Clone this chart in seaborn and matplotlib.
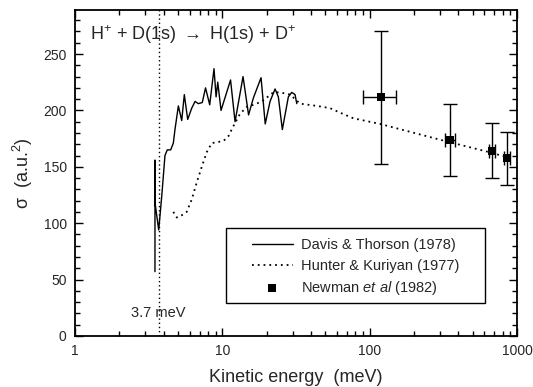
import numpy as np
import pandas as pd
import matplotlib
matplotlib.use("Agg")
import matplotlib.pyplot as plt
from matplotlib.patches import Rectangle
from matplotlib.ticker import MultipleLocator, LogLocator, NullFormatter, FixedLocator, FixedFormatter
import seaborn as sns

# ---- data ----
# Davis & Thorson (1978), solid curve
dt_energy = [3.49, 3.49, 3.51, 3.70, 3.88, 4.08, 4.23, 4.46, 4.65, 4.77, 5.03, 5.30,
             5.52, 5.82, 6.20, 6.53, 6.87, 7.31, 7.69, 8.21, 8.78, 9.07, 9.31, 9.80,
             11.37, 12.20, 13.82, 15.07, 16.24, 18.31, 19.55, 21.08, 22.80, 24.00,
             25.54, 28.06, 29.59, 31.16, 32.00]
dt_sigma = [57, 156, 116, 94, 124, 160, 165, 165, 171, 183, 204, 191,
            214, 192, 202, 208, 206, 207, 220, 205, 237, 212, 225, 200,
            227, 190, 230, 196, 211, 229, 188, 208, 219, 212,
            183, 212, 216, 214, 206]

# Hunter & Kuriyan (1977), dotted curve
hk_energy = [4.65, 4.90, 5.30, 5.73, 6.20, 6.70, 7.25, 7.84, 8.47, 9.39, 10.2, 10.98,
             11.88, 13.19, 14.64, 17.12, 18.98, 22.19, 24.64, 28.82, 33.69, 43.74,
             53.85, 62.95, 77.5, 117.7, 188.0, 300.6, 456.0, 624.0, 853.0, 945.0]
hk_sigma = [110, 105, 107, 110, 121, 136, 150, 163, 171, 172, 173, 177,
            186, 197, 203, 206, 209, 216, 216, 214, 206, 204,
            202, 198, 193, 188, 181, 174, 168, 163.5, 158.6, 156]

# Newman et al (1982), points with error bars
nw_energy = [119.5, 351.5, 680.7, 853.0]
nw_sigma = [211.7, 173.9, 164.4, 157.7]
nw_sig_lo = [152.7, 141.4, 140.0, 134.0]
nw_sig_hi = [270.6, 205.8, 189.2, 180.7]
nw_e_lo = [89.8, 323.0, 650.0, 815.0]
nw_e_hi = [150.4, 380.0, 712.0, 900.0]

threshold = 3.7

# ---- style ----
sns.set_theme(style="ticks")
plt.rcParams['font.family'] = ['Liberation Sans', 'DejaVu Sans']
plt.rcParams['mathtext.fontset'] = 'custom'
plt.rcParams['mathtext.rm'] = 'Liberation Sans'
plt.rcParams['mathtext.it'] = 'Liberation Sans:italic'
plt.rcParams['axes.edgecolor'] = 'black'
plt.rcParams['axes.linewidth'] = 1.3

dt = pd.DataFrame({'E': dt_energy, 's': dt_sigma})
hk = pd.DataFrame({'E': hk_energy, 's': hk_sigma})
nw = pd.DataFrame({'E': nw_energy, 's': nw_sigma})

fig = plt.figure(figsize=(5.33, 3.87), dpi=100)
ax = fig.add_axes([0.1407, 0.132, 0.8293, 0.842])

ax.axvline(threshold, color='black', lw=1.0, ls=(0, (1, 2)), zorder=1)

sns.lineplot(data=dt, x='E', y='s', ax=ax, sort=False, estimator=None,
             color='black', lw=1.0, label='Davis & Thorson (1978)')
sns.lineplot(data=hk, x='E', y='s', ax=ax, sort=False, estimator=None,
             color='black', lw=1.3, ls=(0, (1, 2.2)), label='Hunter & Kuriyan (1977)')

yerr = [np.array(nw_sigma) - np.array(nw_sig_lo), np.array(nw_sig_hi) - np.array(nw_sigma)]
xerr = [np.array(nw_energy) - np.array(nw_e_lo), np.array(nw_e_hi) - np.array(nw_energy)]
ax.errorbar(nw_energy, nw_sigma, yerr=yerr, xerr=xerr, fmt='none',
            ecolor='black', elinewidth=1.0, capsize=5, capthick=1.0, zorder=3)
sns.scatterplot(data=nw, x='E', y='s', ax=ax, marker='s', s=40, color='black',
                edgecolor='black', linewidth=0, zorder=4,
                label=r'Newman $\it{et\ al}$ (1982)')

ax.set_xscale('log')
ax.set_xlim(1, 1000)
ax.set_ylim(0, 289)

ax.xaxis.set_major_locator(FixedLocator([1, 10, 100, 1000]))
ax.xaxis.set_major_formatter(FixedFormatter(['1', '10', '100', '1000']))
ax.xaxis.set_minor_locator(LogLocator(base=10, subs=np.arange(2, 10)))
ax.xaxis.set_minor_formatter(NullFormatter())
ax.yaxis.set_major_locator(MultipleLocator(50))
ax.yaxis.set_minor_locator(MultipleLocator(10))

ax.tick_params(which='both', direction='in', top=True, right=True,
               labelsize=10, color='black', pad=6)
ax.tick_params(which='major', length=6, width=1.0)
ax.tick_params(which='minor', length=3.5, width=1.0)

ax.set_xlabel('Kinetic energy  (meV)', fontsize=13, labelpad=8)
ax.set_ylabel(r'σ  (a.u.$^{2}$)', fontsize=13, labelpad=6)

ax.text(0.035, 0.925, r'H$^{+}$ + D(1s) $\rightarrow$ H(1s) + D$^{+}$',
        transform=ax.transAxes, fontsize=13, ha='left', va='center')
ax.text(threshold, 20, '3.7 meV', fontsize=10.5, ha='center', va='center')

# legend box (frame drawn separately so the padding matches)
ax.add_patch(Rectangle((0.342, 0.101), 0.586, 0.230, transform=ax.transAxes,
                       fill=True, facecolor='white', edgecolor='black', lw=1.0, zorder=5))
leg = ax.legend(loc='upper left', bbox_to_anchor=(0.4005, 0.30), fontsize=10.5,
                frameon=False, handlelength=2.8, handletextpad=0.55, borderpad=0,
                labelspacing=0.45, borderaxespad=0)
leg.set_zorder(6)

fig.savefig('out.png', dpi=100)
